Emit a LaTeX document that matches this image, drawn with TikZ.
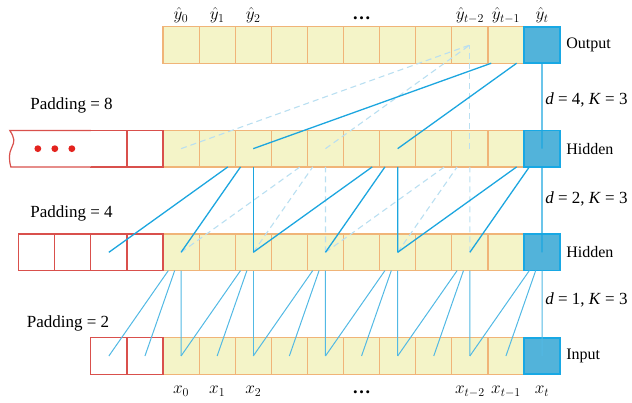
\documentclass[tikz,border=0pt]{standalone}
\usepackage{fontspec}
\setmainfont{Liberation Serif}
\usepackage{tikz}
\usetikzlibrary{positioning, calc}
\definecolor{cellyellow}{HTML}{F4F4C8}
\definecolor{cellorange}{HTML}{F0B478}
\definecolor{padred}{HTML}{D9504C}
\definecolor{dotred}{HTML}{E3231E}
\definecolor{lastfill}{HTML}{52B3DA}
\definecolor{lastedge}{HTML}{18A8E4}
\definecolor{linkblue}{HTML}{1CA6DF}
\definecolor{linklight}{HTML}{52B9E4}
\definecolor{linkpale}{HTML}{B9DFF1}
\tikzset{
  data_cell/.style={rectangle, draw=cellorange, fill=cellyellow, line width=1.2pt, minimum width=36.1pt, minimum height=36.5pt, inner sep=0pt, outer sep=0pt},
  pad_cell/.style={data_cell, draw=padred, fill=white},
  last_cell/.style={data_cell, draw=lastedge, fill=lastfill, line width=1.6pt},
  pad_border/.style={draw=padred, fill=white, line width=1.2pt},
  conn_main/.style={line width=1.3pt, linkblue},
  conn_input/.style={line width=1pt, linklight},
  conn_skip/.style={line width=1.1pt, linkpale, dash pattern=on 6pt off 4pt},
  row_label/.style={font=\fontsize{16}{19}\selectfont, inner sep=0pt},
  pad_label/.style={font=\fontsize{17}{20}\selectfont, inner sep=0pt},
  seq_label/.style={font=\fontsize{18.5}{21}\selectfont, inner sep=2pt, text height=12pt, text depth=4pt}
}

\begin{document}
\begin{tikzpicture}[x=1pt, y=1pt]
  \useasboundingbox (0,0) rectangle (632,403);

  % --- Output row ---
  \node[data_cell] (out4) at (181.05,358) {};
  \foreach \c [remember=\c as \p (initially 4)] in {5,...,13}
    \node[data_cell, right=0pt of out\p] (out\c) {};
  \node[last_cell, right=0pt of out13] (out14) {};

  % --- Upper hidden row (padding = 8) ---
  \node[data_cell] (hidA4) at (181.05,254.33) {};
  \foreach \c [remember=\c as \p (initially 4)] in {5,...,13}
    \node[data_cell, right=0pt of hidA\p] (hidA\c) {};
  \node[last_cell, right=0pt of hidA13] (hidA14) {};
  \node[pad_cell, left=0pt of hidA4] (hidA3) {};
  \node[pad_cell, left=0pt of hidA3] (hidA2) {};
  \draw[pad_border] (hidA2.north west) -- ++(-81,0)
    .. controls +(5,-8) and +(3,6) .. ++(2,-17)
    .. controls +(-3,-6) and +(-2,8) .. ++(-1,-19.5)
    -- (hidA2.south west);
  \foreach \dx in {-71,-54,-37}
    \fill[dotred] ($(hidA2.center)+(\dx,0)$) circle (3.4pt);

  % --- Lower hidden row (padding = 4) ---
  \node[data_cell] (hidB4) at (181.05,150.67) {};
  \foreach \c [remember=\c as \p (initially 4)] in {5,...,13}
    \node[data_cell, right=0pt of hidB\p] (hidB\c) {};
  \node[last_cell, right=0pt of hidB13] (hidB14) {};
  \foreach \c [remember=\c as \p (initially 4)] in {3,2,1,0}
    \node[pad_cell, left=0pt of hidB\p] (hidB\c) {};

  % --- Input row (padding = 2) ---
  \node[data_cell] (in4) at (181.05,47) {};
  \foreach \c [remember=\c as \p (initially 4)] in {5,...,13}
    \node[data_cell, right=0pt of in\p] (in\c) {};
  \node[last_cell, right=0pt of in13] (in14) {};
  \node[pad_cell, left=0pt of in4] (in3) {};
  \node[pad_cell, left=0pt of in3] (in2) {};

  % --- Connections, d = 1 ---
  \foreach \tg in {4,6,...,14}
    \foreach \s in {0,1,2} {
      \pgfmathtruncatemacro{\src}{\tg-\s}
      \draw[conn_input] (in\src.center) -- ($(in\src.center)!0.824!(hidB\tg.center)$);
    }

  % --- Connections, d = 2 ---
  \foreach \tg in {8,12}
    \foreach \s in {0,1,2} {
      \pgfmathtruncatemacro{\src}{\tg-2*\s}
      \draw[conn_skip] (hidB\src.center) -- ($(hidB\src.center)!0.824!(hidA\tg.center)$);
    }
  \foreach \tg in {6,10,14}
    \foreach \s in {0,1,2} {
      \pgfmathtruncatemacro{\src}{\tg-2*\s}
      \draw[conn_main] (hidB\src.center) -- ($(hidB\src.center)!0.824!(hidA\tg.center)$);
    }

  % --- Connections, d = 4 ---
  \foreach \s in {0,1,2} {
    \pgfmathtruncatemacro{\src}{12-4*\s}
    \draw[conn_skip] (hidA\src.center) -- (out12.center);
  }
  \foreach \s in {0,1,2} {
    \pgfmathtruncatemacro{\src}{14-4*\s}
    \draw[conn_main] (hidA\src.center) -- ($(hidA\src.center)!0.824!(out14.center)$);
  }

  % --- Row labels ---
  \node[row_label, right=6pt of out14] (lab_out) {Output};
  \node[row_label, right=6pt of hidA14] (lab_hidA) {Hidden};
  \node[row_label, right=6pt of hidB14] (lab_hidB) {Hidden};
  \node[row_label, right=6pt of in14] (lab_in) {Input};

  \node[pad_label, anchor=west] (step_out) at ($(hidA14.north)!0.45!(out14.south)+(3,0)$) {\textit{d} = 4, \textit{K} = 3};
  \node[pad_label, anchor=west] (step_hidA) at ($(hidB14.north)!0.53!(hidA14.south)+(3,0)$) {\textit{d} = 2, \textit{K} = 3};
  \node[pad_label, anchor=west] (step_hidB) at ($(in14.north)!0.57!(hidB14.south)+(3,0)$) {\textit{d} = 1, \textit{K} = 3};

  \node[pad_label] (pad_hidA) at (71.5,298) {Padding = 8};
  \node[pad_label] (pad_hidB) at (71.5,190) {Padding = 4};
  \node[pad_label] (pad_in) at (68,80) {Padding = 2};

  % --- Sequence labels ---
  \foreach \c/\sub in {4/0,5/1,6/2,12/t-2,13/t-1,14/t} {
    \node[seq_label, above=1pt of out\c] (yhat\c) {$\hat{y}_{\sub}$};
    \node[seq_label, below=5pt of in\c] (x\c) {$x_{\sub}$};
  }
  \node[seq_label, above=1pt of out9] (yhat9) {\textbf{\ldots}};
  \node[seq_label, below=5pt of in9] (x9) {\textbf{\ldots}};
\end{tikzpicture}
\end{document}
